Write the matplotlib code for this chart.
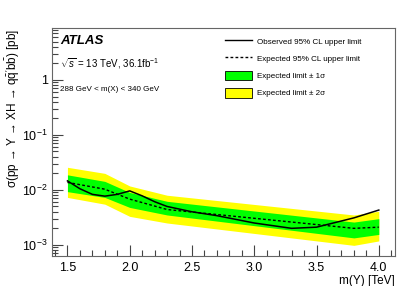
import numpy as np
import matplotlib
matplotlib.use('Agg')
import matplotlib.pyplot as plt
from matplotlib.lines import Line2D
from matplotlib.patches import Patch
from matplotlib.ticker import LogLocator, MultipleLocator

plt.rcParams['font.family'] = ['Liberation Sans', 'DejaVu Sans']
plt.rcParams['mathtext.fontset'] = 'custom'
plt.rcParams['mathtext.rm'] = 'Liberation Sans'
plt.rcParams['mathtext.it'] = 'Liberation Sans:italic'
plt.rcParams['mathtext.bf'] = 'Liberation Sans:bold'

# band / expected limit knots (TeV, pb)
m_band = [1.5, 1.8, 2.0, 2.3, 3.8, 4.0]
exp_lim = [0.0137, 0.0103, 0.0068, 0.0044, 0.0020, 0.0021]
up_1s = [0.0188, 0.0143, 0.0090, 0.0062, 0.0026, 0.0030]
dn_1s = [0.0093, 0.0073, 0.0048, 0.0035, 0.00134, 0.00155]
up_2s = [0.0258, 0.0200, 0.0118, 0.0080, 0.0035, 0.0041]
dn_2s = [0.0073, 0.0055, 0.0033, 0.0025, 0.00098, 0.00118]

# observed limit
m_obs = [1.5, 1.6, 1.7, 1.8, 1.9, 2.0, 2.1, 2.2, 2.3, 2.5, 2.7, 3.0, 3.3, 3.5, 3.8, 4.0]
obs_lim = [0.0146, 0.0105, 0.0083, 0.0077, 0.0083, 0.0096, 0.0078, 0.0061,
           0.0050, 0.0040, 0.0034, 0.0025, 0.0020, 0.0021, 0.0031, 0.0043]

fig = plt.figure(figsize=(3.99, 2.86), dpi=100)
ax = fig.add_axes([52 / 399, 1 - 256.3 / 286, 342.5 / 399, 228 / 286])

ax.fill_between(m_band, dn_2s, up_2s, color='#ffff00', lw=0)
ax.fill_between(m_band, dn_1s, up_1s, color='#00ff00', lw=0)
ax.plot(m_band, exp_lim, color='black', lw=1.0, ls=(0, (2, 1.6)))
ax.plot(m_obs, obs_lim, color='black', lw=1.1)

ax.set_yscale('log')
ax.set_xlim(1.376, 4.126)
ax.set_ylim(6.2e-4, 8.7)

ax.set_yticks([1e-3, 1e-2, 1e-1, 1])
ax.set_yticklabels(['$10^{-3}$', '$10^{-2}$', '$10^{-1}$', '1'])
ax.yaxis.set_minor_locator(LogLocator(base=10, subs=np.arange(2, 10)))
ax.yaxis.set_minor_formatter(plt.NullFormatter())
ax.xaxis.set_major_locator(MultipleLocator(0.5))
ax.xaxis.set_minor_locator(MultipleLocator(0.1))

ax.tick_params(axis='both', which='major', direction='in', length=8, width=0.8,
               labelsize=9, color='#444444')
ax.tick_params(axis='both', which='minor', direction='in', length=4, width=0.8,
               color='#444444')
ax.tick_params(axis='y', which='major', pad=3)
ax.tick_params(axis='x', which='major', pad=4)
for s in ax.spines.values():
    s.set_color('#666666')
    s.set_linewidth(0.8)

ax.set_xlabel('m(Y) [TeV]', fontsize=8.5, loc='right', labelpad=1)
ax.set_ylabel('σ(pp → Y → XH → ' + r"$\mathrm{q\bar{q}}'\mathrm{b\bar{b}}$" + ') [pb]',
              fontsize=8.5, loc='top', labelpad=0)

ax.text(60 / 399, 1 - 40.5 / 286, 'ATLAS', transform=fig.transFigure,
        fontsize=9.5, fontweight='bold', fontstyle='italic', va='center')
ax.text(60 / 399, 1 - 67.7 / 286, r'$\sqrt{s}$ = 13 TeV, 36.1fb$^{-1}$',
        transform=fig.transFigure, fontsize=7, va='baseline')
ax.text(60 / 399, 1 - 89 / 286, '288 GeV < m(X) < 340 GeV',
        transform=fig.transFigure, fontsize=5.8, va='center')

handles = [Line2D([], [], color='black', lw=1.0),
           Line2D([], [], color='black', lw=1.0, ls=(0, (2, 1.6))),
           Patch(facecolor='#00ff00', edgecolor='black', lw=0.6),
           Patch(facecolor='#ffff00', edgecolor='black', lw=0.6)]
labels = ['Observed 95% CL upper limit', 'Expected 95% CL upper limit',
          'Expected limit ± 1σ', 'Expected limit ± 2σ']
ax.legend(handles, labels, loc='upper left', bbox_to_anchor=(225 / 399, 1 - 36.5 / 286),
          bbox_transform=fig.transFigure, frameon=False, fontsize=5.8,
          handlelength=3.4, handleheight=1.5, handletextpad=0.6,
          labelspacing=0.9, borderpad=0, borderaxespad=0)

fig.savefig('out.png', dpi=100)
